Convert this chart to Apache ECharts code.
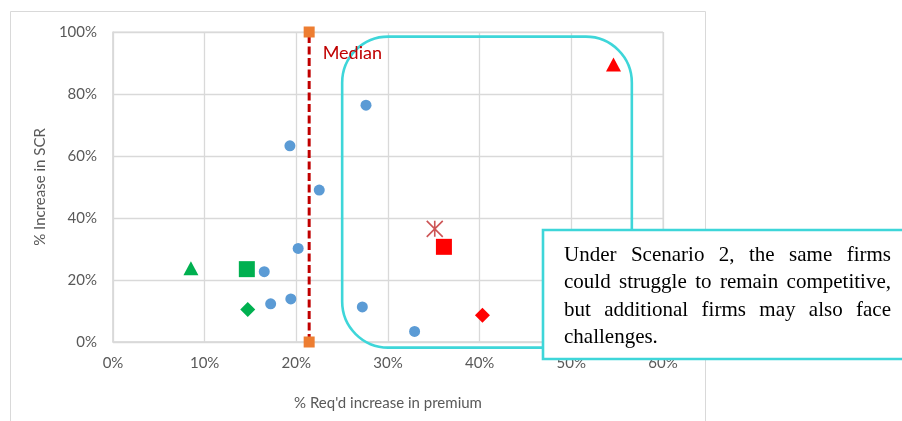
<!DOCTYPE html>
<html>
<head>
<meta charset="utf-8">
<script src="https://cdn.jsdelivr.net/npm/echarts@6/dist/echarts.min.js"></script>
<style>
  html, body { margin: 0; padding: 0; background: #ffffff; }
  #chart { width: 902px; height: 421px; }
</style>
</head>
<body>
<div id="chart"></div>
<script>
// ---- data (x: % required premium increase, y: % increase in SCR) ----
const xTickValues = [0, 10, 20, 30, 40, 50, 60];
const yTickValues = [0, 20, 40, 60, 80, 100];

const peerFirms = [
  [19.3, 63.3], [27.6, 76.4], [22.5, 49.0], [20.2, 30.2], [16.5, 22.7],
  [17.2, 12.3], [19.4, 13.9], [27.2, 11.3], [32.9, 3.4]
];
const greenTriangle = [[8.5, 23.8]];
const greenSquare = [[14.6, 23.5]];
const greenDiamond = [[14.7, 10.5]];
const redTriangle = [[54.6, 89.5]];
const redSquare = [[36.1, 30.7]];
const redDiamond = [[40.3, 8.6]];
const redStar = [[35.1, 36.5]];

const medianX = 21.4;
const medianLine = [[medianX, 0], [medianX, 100]];

// region of firms that could struggle (in axis units)
const highlightRegion = { x0: 25.0, x1: 56.6, y0: -1.8, y1: 98.5 };

const noteLines = [
  { words: ['Under', 'Scenario', '2,', 'the', 'same', 'firms'], justify: true },
  { words: ['could', 'struggle', 'to', 'remain', 'competitive,'], justify: true },
  { words: ['but', 'additional', 'firms', 'may', 'also', 'face'], justify: true },
  { words: ['challenges.'], justify: false }
];

// ---- styling ----
const UI_FONT = 'Lato, "Open Sans", sans-serif';
const GRID_COLOR = '#D9D9D9';
const TEXT_COLOR = '#595959';
const CYAN = '#3ED6D9';
const STAR_PATH = 'path://M0,0L16,16M16,0L0,16M8,0L8,16';

const chart = echarts.init(document.getElementById('chart'), null, { renderer: 'canvas' });

function scatter(name, data, symbol, size, color, extra) {
  return Object.assign({
    name: name,
    type: 'scatter',
    data: data,
    symbol: symbol,
    symbolSize: size,
    itemStyle: { color: color, opacity: 1 },
    z: 5
  }, extra || {});
}

const option = {
  animation: false,
  backgroundColor: '#ffffff',
  grid: {
    left: 113, right: 239, top: 32, bottom: 79,
    show: true, borderColor: GRID_COLOR, borderWidth: 1
  },
  xAxis: {
    type: 'value',
    min: xTickValues[0], max: xTickValues[xTickValues.length - 1], interval: 10,
    name: "% Req'd increase in premium",
    nameLocation: 'middle', nameGap: 54,
    nameTextStyle: { color: TEXT_COLOR, fontFamily: UI_FONT, fontSize: 15 },
    axisLine: { show: true, lineStyle: { color: GRID_COLOR, width: 1.5 } },
    axisTick: { show: false },
    axisLabel: { formatter: '{value}%', color: TEXT_COLOR, fontFamily: UI_FONT, fontSize: 15, margin: 14 },
    splitLine: { show: true, lineStyle: { color: GRID_COLOR, width: 1.3 } }
  },
  yAxis: {
    type: 'value',
    min: yTickValues[0], max: yTickValues[yTickValues.length - 1], interval: 20,
    name: '% Increase in SCR',
    nameLocation: 'middle', nameGap: 58,
    nameTextStyle: { color: TEXT_COLOR, fontFamily: UI_FONT, fontSize: 15 },
    axisLine: { show: true, lineStyle: { color: GRID_COLOR, width: 1.5 } },
    axisTick: { show: false },
    axisLabel: { formatter: '{value}%', color: TEXT_COLOR, fontFamily: UI_FONT, fontSize: 15, margin: 16 },
    splitLine: { show: true, lineStyle: { color: GRID_COLOR, width: 1.3 } }
  },
  series: [
    {
      name: 'Median',
      type: 'line',
      data: [
        { value: medianLine[0] },
        {
          value: medianLine[1],
          label: {
            show: true, formatter: 'Median', position: 'right',
            distance: 8, offset: [0, 21],
            color: '#C00000', fontFamily: UI_FONT, fontSize: 18
          }
        }
      ],
      symbol: 'rect',
      symbolSize: 11,
      showSymbol: true,
      itemStyle: { color: '#ED7D31' },
      lineStyle: { color: '#C00000', width: 3, type: [8, 3.5] },
      z: 4
    },
    scatter('Peers', peerFirms, 'circle', 11, '#5B9BD5'),
    scatter('Green triangle', greenTriangle, 'triangle', [15, 14], '#00B050'),
    scatter('Green square', greenSquare, 'rect', 16, '#00B050'),
    scatter('Green diamond', greenDiamond, 'diamond', [15, 15], '#00B050'),
    scatter('Red triangle', redTriangle, 'triangle', [15, 14], '#FF0000'),
    scatter('Red square', redSquare, 'rect', 16, '#FF0000'),
    scatter('Red diamond', redDiamond, 'diamond', [15, 15], '#FF0000'),
    scatter('Red star', redStar, STAR_PATH, 16, 'transparent', {
      itemStyle: { color: 'transparent', borderColor: '#C0292B', borderWidth: 1.6 }
    })
  ]
};

chart.setOption(option);

// ---- annotations: highlighted region, callout box and outer frame ----
function buildAnnotations() {
  const tl = chart.convertToPixel({ gridIndex: 0 }, [highlightRegion.x0, highlightRegion.y1]);
  const br = chart.convertToPixel({ gridIndex: 0 }, [highlightRegion.x1, highlightRegion.y0]);

  const elements = [
    {
      type: 'rect', z: 0, silent: true,
      shape: { x: 10.5, y: 11.5, width: 695, height: 430 },
      style: { fill: 'none', stroke: GRID_COLOR, lineWidth: 1 }
    },
    {
      type: 'rect', z: 3, silent: true,
      shape: { x: tl[0], y: tl[1], width: br[0] - tl[0], height: br[1] - tl[1], r: 46 },
      style: { fill: 'none', stroke: CYAN, lineWidth: 2.6 }
    },
    {
      type: 'rect', z: 50, silent: true,
      shape: { x: 543, y: 230, width: 370, height: 129 },
      style: { fill: '#ffffff', stroke: CYAN, lineWidth: 2.6 }
    }
  ];

  // justified note text, placed word by word
  const fontSize = 21;
  const font = fontSize + 'px "Liberation Serif", "Times New Roman", serif';
  const ctx = document.createElement('canvas').getContext('2d');
  ctx.font = font;
  const left = 564, right = 891, firstCenter = 255, lineStep = 27.5;
  noteLines.forEach(function (line, i) {
    const widths = line.words.map(function (w) { return ctx.measureText(w).width; });
    const total = widths.reduce(function (a, b) { return a + b; }, 0);
    const gap = (line.justify && line.words.length > 1)
      ? (right - left - total) / (line.words.length - 1)
      : ctx.measureText(' ').width;
    let x = left;
    line.words.forEach(function (w, j) {
      elements.push({
        type: 'text', z: 51, silent: true,
        x: x, y: firstCenter + i * lineStep,
        style: {
          text: w, font: font, fill: '#000000',
          align: 'left', verticalAlign: 'middle'
        }
      });
      x += widths[j] + gap;
    });
  });

  chart.setOption({ graphic: { elements: elements } });
}

buildAnnotations();
</script>
</body>
</html>
